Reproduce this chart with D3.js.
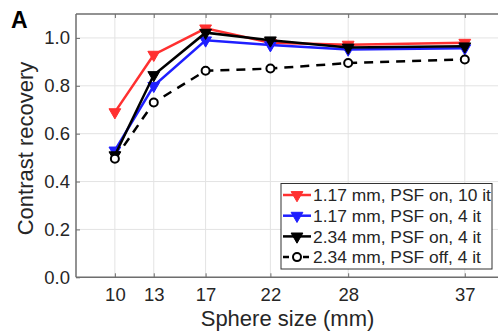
<!DOCTYPE html>
<html><head><meta charset="utf-8">
<script src="https://cdn.jsdelivr.net/npm/d3@7"></script>
<style>body{margin:0;background:#fff}svg{display:block}text{font-family:"Liberation Sans",Arial,sans-serif}</style>
</head><body>
<script>
const sizes = [10, 13, 17, 22, 28, 37];
const xTicks = [10, 13, 17, 22, 28, 37];
const yTicks = [0, 0.2, 0.4, 0.6, 0.8, 1.0];
const red10 = [0.69, 0.93, 1.04, 0.98, 0.972, 0.98];
const blue4 = [0.53, 0.80, 0.99, 0.97, 0.952, 0.957];
const black4 = [0.51, 0.845, 1.022, 0.99, 0.96, 0.965];
const psfOff = [0.495, 0.73, 0.863, 0.872, 0.895, 0.91];
const seriesNames = ["1.17 mm, PSF on, 10 it", "1.17 mm, PSF on, 4 it", "2.34 mm, PSF on, 4 it", "2.34 mm, PSF off, 4 it"];
const series = [
  {name: seriesNames[0], values: red10, color: "#ff3030", marker: "tri", dash: null},
  {name: seriesNames[1], values: blue4, color: "#1f1fff", marker: "tri", dash: null},
  {name: seriesNames[2], values: black4, color: "#000000", marker: "tri", dash: null},
  {name: seriesNames[3], values: psfOff, color: "#000000", marker: "circ", dash: "9,7"}
];

const W = 498, H = 331;
const svg = d3.select("body").append("svg").attr("width", W).attr("height", H);
const x = d3.scaleLinear().domain([7, 40]).range([76, 76 + 33 * 12.96]);
const y = d3.scaleLinear().domain([0, 1.1]).range([277.3, 14]);
const axCol = "#6e6e6e", txtCol = "#262626";

// grid
svg.append("g").selectAll("line").data(xTicks).join("line")
  .attr("x1", d => x(d)).attr("x2", d => x(d)).attr("y1", y(0)).attr("y2", y(1.1))
  .attr("stroke", "#e3e3e3").attr("stroke-width", 1);
svg.append("g").selectAll("line").data(yTicks).join("line")
  .attr("x1", x(7)).attr("x2", x(40)).attr("y1", d => y(d)).attr("y2", d => y(d))
  .attr("stroke", "#e3e3e3").attr("stroke-width", 1);

// axes (inward ticks)
const xAxisB = d3.axisBottom(x).tickValues(xTicks).tickSize(-4).tickPadding(11).tickFormat(d3.format("d"));
const gxb = svg.append("g").attr("transform", `translate(0,${y(0)})`).call(xAxisB);
const gxt = svg.append("g").attr("transform", `translate(0,${y(1.1)})`).call(d3.axisTop(x).tickValues(xTicks).tickSize(-4).tickFormat(""));
const gyl = svg.append("g").attr("transform", `translate(${x(7)},0)`).call(d3.axisLeft(y).tickValues(yTicks).tickSize(-4).tickPadding(6).tickFormat(d3.format(".1f")));
[gxb, gxt, gyl].forEach(g => {
  g.select(".domain").attr("stroke", axCol).attr("stroke-width", 1.5);
  g.selectAll(".tick line").attr("stroke", axCol);
  g.selectAll(".tick text").attr("fill", txtCol).attr("font-size", 18.5);
});
gyl.select(".domain").attr("d", `M0,${y(0)}V${y(1.1)}`);
gxb.select(".domain").attr("d", `M${x(7)},0H${x(40)}`);
gxt.select(".domain").attr("d", `M${x(7)},0H${x(40)}`);

// lines
const line = d3.line().x((d, i) => x(sizes[i])).y(d => y(d));
const tri = d3.symbol().type(d3.symbolTriangle).size(60);
function drawMarker(g, s, cx, cy) {
  if (s.marker === "tri") {
    g.append("path").attr("d", tri()).attr("transform", `translate(${cx},${cy}) rotate(180)`)
      .attr("fill", s.color).attr("stroke", s.color).attr("stroke-width", 1);
  } else {
    g.append("circle").attr("cx", cx).attr("cy", cy).attr("r", 4)
      .attr("fill", "#fff").attr("stroke", s.color).attr("stroke-width", 2);
  }
}
series.forEach(s => {
  const g = svg.append("g");
  g.append("path").datum(s.values).attr("d", line).attr("fill", "none")
    .attr("stroke", s.color).attr("stroke-width", 2.5).attr("stroke-dasharray", s.dash);
  s.values.forEach((v, i) => drawMarker(g, s, x(sizes[i]), y(v)));
});

// legend
const lg = svg.append("g");
lg.append("rect").attr("x", 281).attr("y", 183.5).attr("width", 211).attr("height", 85.5)
  .attr("fill", "#fff").attr("stroke", "#333").attr("stroke-width", 1);
series.forEach((s, i) => {
  const cy = 195 + i * 20.7;
  lg.append("line").attr("x1", 283).attr("x2", 311).attr("y1", cy).attr("y2", cy)
    .attr("stroke", s.color).attr("stroke-width", 2.5).attr("stroke-dasharray", s.dash ? "6,4" : null);
  drawMarker(lg, s, 297, cy);
  lg.append("text").attr("x", 313).attr("y", cy + 6.2).attr("font-size", 17.4).attr("fill", txtCol).text(s.name);
});

// titles
svg.append("text").attr("x", 287.5).attr("y", 326).attr("text-anchor", "middle")
  .attr("font-size", 22).attr("fill", txtCol).text("Sphere size (mm)");
svg.append("text").attr("transform", `translate(33,148.5) rotate(-90)`)
  .attr("text-anchor", "middle").attr("font-size", 22).attr("fill", txtCol).text("Contrast recovery");
svg.append("text").attr("x", 11).attr("y", 28).attr("font-size", 23).attr("font-weight", "bold")
  .attr("fill", "#000").text("A");
</script>
</body></html>
